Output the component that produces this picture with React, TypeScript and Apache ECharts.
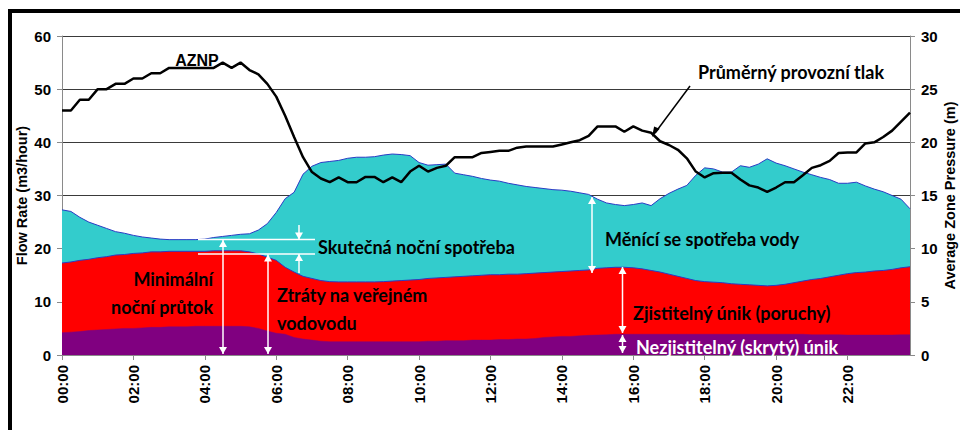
import React, { useEffect, useRef } from "react";
import * as echarts from "echarts";

// 15-minute time categories 00:00 .. 23:45
const timeCategories: string[] = Array.from({ length: 96 }, (_, i) =>
  `${String(Math.floor(i / 4)).padStart(2, "0")}:${String((i % 4) * 15).padStart(2, "0")}`
);

// Total flow (m3/hour) - top of the cyan area
const totalFlow = [
  27.3, 27.0, 25.9, 25.0, 24.4, 23.8, 23.2, 22.9, 22.5, 22.2, 22.0, 21.8,
  21.7, 21.7, 21.7, 21.7, 21.8, 22.1, 22.3, 22.5, 22.7, 22.8, 23.5, 24.7,
  26.8, 29.4, 30.6, 34.0, 35.5, 36.2, 36.4, 36.6, 37.0, 37.2, 37.2, 37.3,
  37.6, 37.8, 37.7, 37.5, 36.2, 35.7, 35.8, 35.9, 34.2, 33.9, 33.6, 33.2,
  32.9, 32.7, 32.3, 32.0, 31.7, 31.5, 31.3, 31.1, 31.0, 30.8, 30.5, 30.2,
  29.3, 28.6, 28.3, 28.1, 28.3, 28.6, 28.1, 29.4, 30.4, 31.2, 31.9, 33.8,
  35.2, 35.0, 34.4, 34.4, 35.6, 35.3, 35.9, 36.9, 36.1, 35.6, 35.0, 34.4,
  33.9, 33.4, 33.0, 32.3, 32.3, 32.5, 31.8, 31.2, 30.7, 30.0, 29.3, 27.5,
];

// Total leakage (m3/hour) - top of the red area
const totalLeakage = [
  17.3, 17.5, 17.8, 18.0, 18.3, 18.5, 18.8, 18.9, 19.1, 19.2, 19.4, 19.4,
  19.5, 19.5, 19.5, 19.5, 19.5, 19.6, 19.6, 19.6, 19.6, 19.4, 19.0, 18.4,
  17.8, 16.5, 15.6, 14.8, 14.4, 14.0, 13.8, 13.75, 13.75, 13.75, 13.75, 13.75,
  13.8, 13.9, 14.0, 14.1, 14.2, 14.4, 14.5, 14.6, 14.7, 14.8, 14.9, 15.0,
  15.1, 15.1, 15.2, 15.2, 15.3, 15.4, 15.5, 15.6, 15.7, 15.8, 15.9, 16.0,
  16.3, 16.4, 16.5, 16.5, 16.4, 16.2, 15.9, 15.6, 15.2, 14.8, 14.4, 14.0,
  13.8, 13.7, 13.6, 13.4, 13.3, 13.2, 13.1, 13.0, 13.1, 13.3, 13.6, 13.9,
  14.2, 14.4, 14.7, 15.0, 15.3, 15.5, 15.6, 15.8, 15.9, 16.1, 16.4, 16.6,
];

// Undetectable (background) leakage (m3/hour) - purple area
const hiddenLeakage = [
  4.2, 4.3, 4.4, 4.6, 4.7, 4.8, 4.9, 5.0, 5.0, 5.1, 5.2, 5.2,
  5.3, 5.3, 5.3, 5.4, 5.4, 5.4, 5.4, 5.4, 5.4, 5.3, 5.0, 4.5,
  4.1, 3.9, 3.3, 3.0, 2.8, 2.6, 2.5, 2.5, 2.5, 2.5, 2.5, 2.5,
  2.5, 2.5, 2.5, 2.5, 2.5, 2.6, 2.6, 2.7, 2.7, 2.7, 2.8, 2.8,
  2.8, 2.9, 2.9, 3.0, 3.0, 3.1, 3.3, 3.4, 3.5, 3.5, 3.6, 3.7,
  3.75, 3.8, 3.9, 3.9, 3.9, 3.9, 3.9, 3.9, 3.9, 3.9, 3.9, 3.9,
  3.9, 3.9, 3.9, 3.9, 3.9, 3.9, 3.9, 3.9, 3.9, 3.9, 3.9, 3.9,
  3.8, 3.8, 3.8, 3.8, 3.75, 3.75, 3.75, 3.75, 3.75, 3.75, 3.8, 3.8,
];

// Average zone pressure (m) - right axis
const zonePressure = [
  23, 23, 24, 24, 25, 25, 25.5, 25.5, 26, 26, 26.5, 26.5,
  27, 27, 27, 27, 27, 27, 27.5, 27, 27.5, 26.8, 26.4, 25.5,
  24.3, 22.5, 20.5, 18.6, 17.2, 16.6, 16.25, 16.7, 16.25, 16.25, 16.75, 16.75,
  16.25, 16.7, 16.25, 17.25, 17.8, 17.25, 17.6, 17.8, 18.6, 18.6, 18.6, 19.0,
  19.1, 19.2, 19.2, 19.5, 19.6, 19.6, 19.6, 19.6, 19.8, 20.0, 20.2, 20.6,
  21.5, 21.5, 21.5, 21.0, 21.5, 21.1, 20.9, 20.1, 19.75, 19.3, 18.5, 17.25,
  16.7, 17.1, 17.15, 17.15, 16.5, 15.95, 15.75, 15.35, 15.75, 16.25, 16.25, 16.9,
  17.6, 17.85, 18.25, 19.0, 19.05, 19.05, 19.9, 20.0, 20.5, 21.1, 21.95, 22.8,
];

const flowTicks = { min: 0, max: 60, interval: 10 };
const pressureTicks = { min: 0, max: 30, interval: 5 };

const ANN_FONT = "bold 18px Lato";
const AXIS_FONT = "Liberation Sans";

function head(x: number, y: number, up: boolean, color: string) {
  const d = up ? 7 : -7;
  return {
    type: "polygon",
    shape: { points: [[x, y], [x - 4, y + d], [x + 4, y + d]] },
    style: { fill: color },
    silent: true,
    z: 20,
  };
}

function vArrow(x: number, y1: number, y2: number, color: string, topHead = true, bottomHead = true) {
  const els: any[] = [
    {
      type: "line",
      shape: { x1: x, y1: y1, x2: x, y2: y2 },
      style: { stroke: color, lineWidth: 1.5 },
      silent: true,
      z: 20,
    },
  ];
  if (topHead) els.push(head(x, y1, true, color));
  if (bottomHead) els.push(head(x, y2, false, color));
  return els;
}

function hLine(x1: number, x2: number, y: number, color: string) {
  return {
    type: "line",
    shape: { x1, y1: y, x2, y2: y },
    style: { stroke: color, lineWidth: 1.5 },
    silent: true,
    z: 20,
  };
}

function label(text: string, x: number, y: number, color = "#000", align = "left", font = ANN_FONT) {
  return {
    type: "text",
    x,
    y,
    style: { text, fill: color, font, align, verticalAlign: "middle" },
    silent: true,
    z: 30,
  };
}

export default function App() {
  const ref = useRef<HTMLDivElement>(null);

  useEffect(() => {
    if (!ref.current) return;
    const chart = echarts.init(ref.current, undefined, { renderer: "svg" });

    const tipX = 652, tipY = 137;
    const option: any = {
      animation: false,
      backgroundColor: "#ffffff",
      grid: { left: 62, right: 50, top: 36, bottom: 75, outerBoundsMode: "none", containLabel: false },
      xAxis: {
        type: "category",
        data: timeCategories,
        boundaryGap: false,
        axisLine: { lineStyle: { color: "#8a8a8a", width: 1 } },
        axisTick: { show: true, interval: 7, length: 5, lineStyle: { color: "#8a8a8a" } },
        axisLabel: {
          interval: 7,
          rotate: 90,
          color: "#000",
          fontWeight: "bold",
          fontSize: 15,
          fontFamily: AXIS_FONT,
          margin: 10,
        },
        splitLine: { show: false },
      },
      yAxis: [
        {
          type: "value",
          ...flowTicks,
          position: "left",
          name: "Flow Rate (m3/hour)",
          nameLocation: "middle",
          nameGap: 33,
          nameMoveOverlap: false,
          nameRotate: 90,
          nameTextStyle: { color: "#000", fontWeight: "bold", fontSize: 14.5, fontFamily: AXIS_FONT },
          axisLine: { show: true, lineStyle: { color: "#8a8a8a" } },
          axisTick: { show: true, length: 5, lineStyle: { color: "#8a8a8a" } },
          axisLabel: { color: "#000", fontWeight: "bold", fontSize: 15, fontFamily: AXIS_FONT, margin: 11 },
          splitLine: { show: true, lineStyle: { color: "#3a3a3a", width: 1 } },
        },
        {
          type: "value",
          ...pressureTicks,
          position: "right",
          name: "Average Zone Pressure (m)",
          nameLocation: "middle",
          nameGap: 32,
          nameMoveOverlap: false,
          nameRotate: 90,
          nameTextStyle: { color: "#000", fontWeight: "bold", fontSize: 14.5, fontFamily: AXIS_FONT },
          axisLine: { show: true, lineStyle: { color: "#8a8a8a" } },
          axisTick: { show: true, length: 5, lineStyle: { color: "#8a8a8a" } },
          axisLabel: { color: "#000", fontWeight: "bold", fontSize: 15, fontFamily: AXIS_FONT, margin: 11 },
          splitLine: { show: false },
        },
      ],
      series: [
        {
          name: "Celkový průtok",
          type: "line",
          data: totalFlow,
          symbol: "none",
          lineStyle: { color: "#2b3bc4", width: 1 },
          areaStyle: { color: "#33CCCC", opacity: 1 },
          z: 2,
        },
        {
          name: "Ztráty",
          type: "line",
          data: totalLeakage,
          symbol: "none",
          lineStyle: { color: "#2b3bc4", width: 1 },
          areaStyle: { color: "#FF0000", opacity: 1 },
          z: 3,
        },
        {
          name: "Skrytý únik",
          type: "line",
          data: hiddenLeakage,
          symbol: "none",
          lineStyle: { color: "#800080", width: 0.5 },
          areaStyle: { color: "#800080", opacity: 1 },
          z: 4,
        },
        {
          name: "AZNP",
          type: "line",
          yAxisIndex: 1,
          data: zonePressure,
          symbol: "none",
          lineStyle: { color: "#000", width: 2.5 },
          z: 5,
        },
      ],
      graphic: [
        {
          type: "rect",
          shape: { x: 10, y: 11, width: 1000, height: 500 },
          style: { fill: "none", stroke: "#000", lineWidth: 4 },
          silent: true,
          z: 50,
        },
        label("AZNP", 197, 60, "#000", "center", "bold 16px Liberation Sans"),
        label("Průměrný provozní tlak", 698, 72),
        {
          type: "line",
          shape: { x1: 690, y1: 86, x2: 655, y2: 133 },
          style: { stroke: "#000", lineWidth: 1.5 },
          silent: true,
          z: 20,
        },
        {
          type: "polygon",
          shape: { points: [[tipX, tipY], [tipX + 7.7, tipY - 8.3], [tipX + 2.1, tipY - 10.5]] },
          style: { fill: "#000" },
          silent: true,
          z: 20,
        },
        hLine(198, 315, 239.5, "#ffffff"),
        hLine(198, 315, 254, "#ffffff"),
        ...vArrow(299, 225, 239.5, "#ffffff", false, true),
        ...vArrow(299, 254, 273, "#ffffff", true, false),
        ...vArrow(223, 240, 354, "#ffffff"),
        ...vArrow(268, 254.5, 354, "#ffffff"),
        ...vArrow(592, 197, 273, "#ffffff"),
        ...vArrow(622.5, 267, 333, "#ffffff"),
        ...vArrow(622.5, 335, 353, "#ffffff"),
        label("Skutečná noční spotřeba", 318, 247),
        label("Minimální", 213, 279, "#000", "right"),
        label("noční průtok", 213, 307, "#000", "right"),
        label("Ztráty na veřejném", 277, 295),
        label("vodovodu", 277, 323),
        label("Měnící se spotřeba vody", 605, 239),
        label("Zjistitelný únik (poruchy)", 633, 313),
        label("Nezjistitelný (skrytý) únik", 636, 347, "#ffffff"),
      ],
    };

    chart.setOption(option);
    return () => chart.dispose();
  }, []);

  return (
    <div
      ref={ref}
      style={{ position: "absolute", left: 0, top: 0, width: 960, height: 430 }}
    />
  );
}
